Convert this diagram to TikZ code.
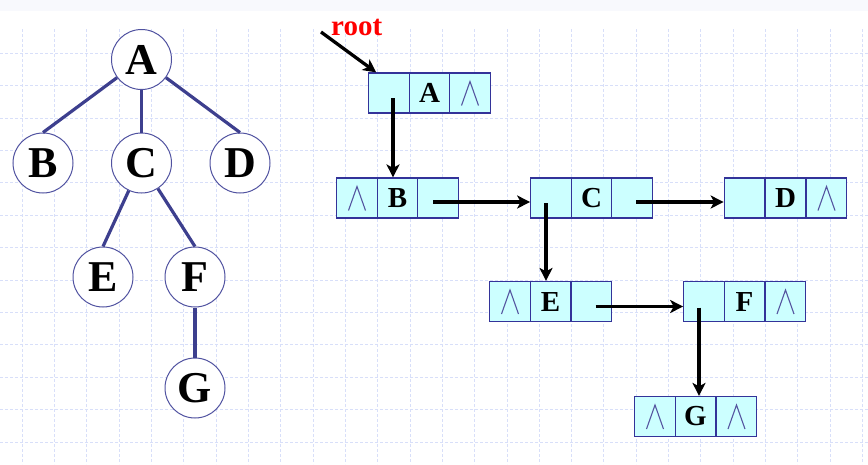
\documentclass[tikz,border=0pt]{standalone}
\usepackage{fontspec}
\setmainfont{Liberation Serif}
\usetikzlibrary{arrows.meta}
\definecolor{gridc}{HTML}{D8DFF9}
\definecolor{edgec}{HTML}{3D3F8E}
\definecolor{circc}{HTML}{5052A0}
\definecolor{cellfill}{HTML}{CCFFFF}
\definecolor{cellborder}{HTML}{333399}
\definecolor{nullc}{HTML}{5555A0}
\definecolor{bandc}{HTML}{F8F9FD}
\begin{document}
\begin{tikzpicture}[x=1pt,y=-1pt,
  tnode/.style={circle,draw=circc,line width=1pt,fill=white,minimum size=60pt,inner sep=0pt,font=\fontsize{44}{44}\selectfont\bfseries},
  tedge/.style={draw=edgec,line width=3.2pt},
  cell/.style={rectangle,draw=cellborder,line width=1.2pt,fill=cellfill,minimum width=40.5pt,minimum height=40pt,inner sep=0pt,font=\fontsize{29}{29}\selectfont\bfseries},
  arr/.style={draw=black,line width=3.3pt,-{Stealth[length=13pt,width=13pt,inset=3.5pt]}},
  nullmark/.style={draw=nullc,line width=1.1pt}]
\useasboundingbox (0,0) rectangle (868,464);
\fill[bandc] (0,0) rectangle (868,11);
% grid
\foreach \k in {0,...,26} {
  \draw[gridc,line width=0.9pt,dash pattern=on 3pt off 2pt] ({22+32.33*\k},29) -- ({22+32.33*\k},464);
}
\foreach \k in {0,...,12} {
  \draw[gridc,line width=0.9pt,dash pattern=on 3pt off 2pt] (0,{53.3+32.4*\k}) -- (868,{53.3+32.4*\k});
}
% tree
\node[tnode] (tA) at (141.5,59.5) {A};
\node[tnode] (tB) at (43,163) {B};
\node[tnode] (tC) at (141.5,163) {C};
\node[tnode] (tD) at (240,163) {D};
\node[tnode] (tE) at (103,277) {E};
\node[tnode] (tF) at (195,277) {F};
\node[tnode] (tG) at (195,388) {G};
\draw[tedge] (tA) -- (tB.north);
\draw[tedge] (tA) -- (tC);
\draw[tedge] (tA) -- (tD.north);
\draw[tedge] (tC) -- (tE.north);
\draw[tedge] (tC) -- (tF.north);
\draw[tedge] (tF) -- (tG);
% linked list
\node[cell] (A1) at (389,93) {};
\node[cell] (A2) at (429.5,93) {A};
\node[cell] (A3) at (470,93) {};
\node[cell] (B1) at (357,198) {};
\node[cell] (B2) at (397.5,198) {B};
\node[cell] (B3) at (438,198) {};
\node[cell] (C1) at (551,198) {};
\node[cell] (C2) at (591.5,198) {C};
\node[cell] (C3) at (632,198) {};
\node[cell] (D1) at (744.5,198) {};
\node[cell] (D2) at (785.5,198) {D};
\node[cell] (D3) at (826.5,198) {};
\node[cell] (E1) at (510,301.5) {};
\node[cell] (E2) at (550.5,301.5) {E};
\node[cell] (E3) at (591.5,301.5) {};
\node[cell] (F1) at (704,301.5) {};
\node[cell] (F2) at (744.5,301.5) {F};
\node[cell] (F3) at (785.5,301.5) {};
\node[cell] (G1) at (655,416.5) {};
\node[cell] (G2) at (695.5,416.5) {G};
\node[cell] (G3) at (736.5,416.5) {};
% null pointer marks
\foreach \c in {A3,B1,D3,E1,F3,G1,G3} {
  \draw[nullmark] ([xshift=-8.5pt,yshift=-12.5pt]\c.center) -- ([yshift=11.5pt]\c.center) -- ([xshift=8.5pt,yshift=-12.5pt]\c.center);
}
% root
\node[text=red,font=\fontsize{29}{29}\selectfont\bfseries,anchor=base west,inner sep=0pt] (root) at (331,35) {root};
\coordinate (rootstart) at (321,32);
\draw[arr] (rootstart) -- ([xshift=8pt]A1.north west);
\draw[arr] ([xshift=4pt,yshift=-5pt]A1.center) -- ([xshift=4pt]A1.center |- B2.north);
\draw[arr] ([xshift=-5pt,yshift=-4pt]B3.center) -- ([yshift=-4pt]C1.west);
\draw[arr] ([xshift=-5pt,yshift=-5pt]C1.center) -- ([xshift=-5pt]C1.center |- E2.north);
\draw[arr] ([xshift=4pt,yshift=-4pt]C3.center) -- ([yshift=-4pt]D1.west);
\draw[arr] ([xshift=4pt,yshift=-5pt]E3.center) -- ([yshift=-5pt]F1.west);
\draw[arr] ([xshift=-5pt,yshift=-6pt]F1.center) -- ([xshift=-5pt]F1.center |- G2.north);
\end{tikzpicture}
\end{document}
